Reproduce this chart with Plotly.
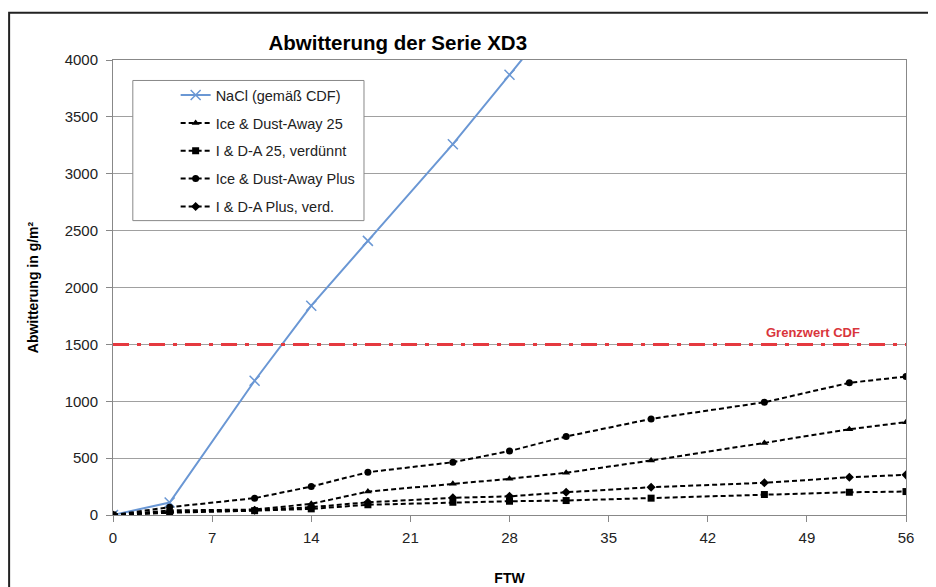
import plotly.graph_objects as go

# ---- data ----
ftw = [0, 4, 10, 14, 18, 24, 28, 32, 38, 46, 52, 56]
nacl_x = [0, 4, 10, 14, 18, 24, 28, 32]
nacl_y = [0, 110, 1180, 1840, 2410, 3260, 3870, 4480]
ida25 = [0, 40, 48, 98, 206, 274, 318, 371, 479, 634, 754, 816]
ida25_verd = [0, 20, 38, 54, 90, 112, 121, 127, 148, 180, 200, 206]
ida_plus = [0, 69, 148, 250, 376, 464, 562, 690, 845, 991, 1162, 1217]
ida_plus_verd = [0, 25, 42, 69, 112, 151, 164, 200, 244, 283, 332, 353]
grenzwert = 1500
x_ticks = [0, 7, 14, 21, 28, 35, 42, 49, 56]
y_ticks = [0, 500, 1000, 1500, 2000, 2500, 3000, 3500, 4000]

FONT = "Liberation Sans, Arial, sans-serif"

fig = go.Figure()

fig.add_trace(go.Scatter(
    x=nacl_x, y=nacl_y, mode="lines+markers", name="NaCl (gemäß CDF)",
    legendgroup="g0",
    line=dict(color="#6a97d4", width=2),
    marker=dict(symbol="x-thin", size=10, line=dict(color="#6a97d4", width=1.5)),
))

black_series = [
    ("Ice & Dust-Away 25", ida25, "triangle-up"),
    ("I & D-A 25, verdünnt", ida25_verd, "square"),
    ("Ice & Dust-Away Plus", ida_plus, "circle"),
    ("I & D-A Plus, verd.", ida_plus_verd, "diamond"),
]
for i, (name, ys, sym) in enumerate(black_series):
    fig.add_trace(go.Scatter(
        x=ftw, y=ys, mode="lines+markers", name=name,
        legendgroup=f"g{i+1}",
        line=dict(color="black", width=2, dash="5px,3px"),
        marker=dict(symbol=sym, size=7, color="black"),
    ))

# limit line
fig.add_trace(go.Scatter(
    x=[x_ticks[0], x_ticks[-1]], y=[grenzwert, grenzwert], mode="lines",
    line=dict(color="#e5393f", width=3, dash="16px,8px,4px,8px"),
    showlegend=False, hoverinfo="skip",
))
fig.add_annotation(
    x=49.4, y=grenzwert, xref="x", yref="y", text="<b>Grenzwert CDF</b>",
    showarrow=False, yanchor="bottom", yshift=2,
    font=dict(family=FONT, size=13, color="#d9363c"),
)

# outer frame
fig.add_shape(type="rect", xref="paper", yref="paper",
              x0=-0.131, x1=1.06, y0=-0.25, y1=1.104,
              line=dict(color="#222", width=2), layer="below")
# legend box
fig.add_shape(type="rect", xref="paper", yref="paper",
              x0=0.025, x1=0.3165, y0=0.647, y1=0.955,
              line=dict(color="#888", width=1), fillcolor="white", layer="above")

fig.update_layout(
    width=928, height=579,
    margin=dict(l=105, r=30, t=52, b=72, autoexpand=False),
    paper_bgcolor="white", plot_bgcolor="white",
    font=dict(family=FONT, color="#222"),
    title=dict(text="<b>Abwitterung der Serie XD3</b>", x=0.420, xanchor="center",
               y=0.9396, yanchor="middle", font=dict(family=FONT, size=20.5, color="black")),
    legend=dict(
        x=0.079, y=0.958, xanchor="left", yanchor="top",
        borderwidth=0, bgcolor="rgba(0,0,0,0)",
        font=dict(family=FONT, size=14.5, color="#222"),
        tracegroupgap=6,
    ),
    showlegend=True,
)

fig.update_xaxes(
    range=[0, 56], tickvals=x_ticks, ticks="outside", ticklen=6, tickcolor="#888",
    showline=True, linecolor="#888", linewidth=1, mirror=True,
    showgrid=False, zeroline=False, automargin=False, ticklabelstandoff=3,
    tickfont=dict(family=FONT, size=15, color="#222"),
    title=dict(text="<b>FTW</b>", font=dict(family=FONT, size=14, color="black"), standoff=28),
)
fig.update_yaxes(
    range=[0, 4000], tickvals=y_ticks, ticks="outside", ticklen=6, tickcolor="#888",
    showline=True, linecolor="#888", linewidth=1, mirror=True,
    showgrid=True, gridcolor="#a0a0a0", gridwidth=1, zeroline=False, automargin=False,
    ticklabelstandoff=5,
    tickfont=dict(family=FONT, size=15, color="#222"),
    title=dict(text="<b>Abwitterung in g/m²</b>", font=dict(family=FONT, size=14, color="black"), standoff=22),
)

fig.write_html("out.html")
